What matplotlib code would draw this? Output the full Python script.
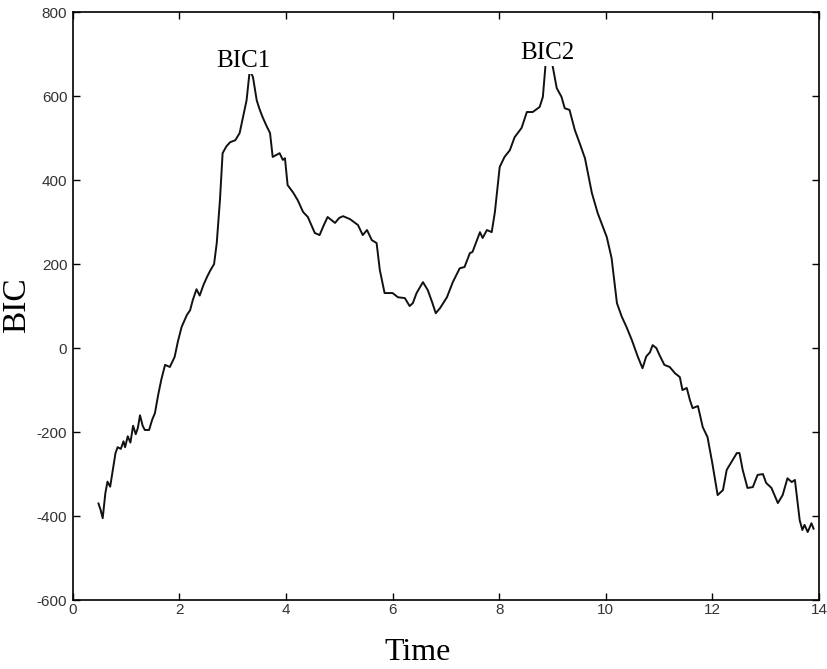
import matplotlib
matplotlib.use('Agg')
import matplotlib.pyplot as plt

# BIC curve
time = [0.48, 0.52, 0.56, 0.61, 0.65, 0.70, 0.75, 0.80, 0.84, 0.90, 0.95, 0.98,
        1.03, 1.08, 1.13, 1.18, 1.22, 1.26, 1.31, 1.35, 1.43, 1.49, 1.54, 1.60,
        1.66, 1.73, 1.82, 1.91, 1.97, 2.04, 2.14, 2.20, 2.25, 2.32, 2.38, 2.45,
        2.52, 2.58, 2.65, 2.70, 2.76, 2.81, 2.88, 2.95, 3.05, 3.13, 3.17, 3.26,
        3.32, 3.38, 3.45, 3.50, 3.56, 3.63, 3.70, 3.75, 3.82, 3.88, 3.94, 3.98,
        4.03, 4.13, 4.22, 4.32, 4.41, 4.54, 4.63, 4.70, 4.78, 4.85, 4.92, 5.00,
        5.07, 5.20, 5.35, 5.44, 5.52, 5.61, 5.70, 5.76, 5.85, 6.00, 6.10, 6.23,
        6.32, 6.38, 6.45, 6.57, 6.66, 6.74, 6.81, 6.89, 7.02, 7.13, 7.26, 7.35,
        7.45, 7.50, 7.64, 7.69, 7.77, 7.86, 7.92, 8.01, 8.10, 8.20, 8.29, 8.42,
        8.52, 8.63, 8.76, 8.82, 8.87, 8.92, 8.97, 9.00, 9.08, 9.17, 9.23, 9.32,
        9.42, 9.51, 9.61, 9.74, 9.85, 10.02, 10.11, 10.21, 10.30, 10.39, 10.49,
        10.60, 10.69, 10.76, 10.83, 10.88, 10.95, 11.01, 11.10, 11.20, 11.30,
        11.39, 11.44, 11.52, 11.58, 11.63, 11.73, 11.82, 11.91, 12.00, 12.10,
        12.20, 12.27, 12.36, 12.46, 12.51, 12.57, 12.66, 12.76, 12.85, 12.95,
        13.01, 13.11, 13.23, 13.32, 13.41, 13.49, 13.55, 13.64, 13.69, 13.73,
        13.79, 13.86, 13.90]
bic = [-370, -385, -405, -345, -318, -330, -290, -250, -236, -240, -222, -236,
       -210, -225, -185, -205, -190, -160, -185, -195, -195, -170, -155, -112,
       -75, -40, -45, -21, 15, 50, 79, 90, 114, 140, 125, 150,
       170, 185, 200, 250, 352, 464, 480, 490, 495, 512, 536, 590,
       662, 645, 590, 570, 550, 530, 512, 455, 460, 464, 448, 452,
       388, 371, 352, 324, 312, 274, 269, 290, 312, 305, 298, 310,
       314, 307, 293, 269, 281, 257, 250, 186, 131, 131, 121, 119,
       100, 107, 131, 157, 138, 110, 83, 95, 121, 157, 190, 193,
       226, 229, 276, 262, 281, 276, 324, 431, 455, 471, 502, 524,
       562, 562, 574, 598, 674, 710, 705, 674, 619, 598, 571, 567,
       519, 488, 452, 369, 321, 264, 214, 107, 75, 50, 19,
       -20, -48, -20, -10, 7, 0, -17, -40, -45, -60,
       -69, -100, -95, -124, -143, -138, -188, -212, -274, -350,
       -338, -290, -271, -250, -250, -290, -333, -331, -302, -300,
       -321, -333, -369, -350, -310, -319, -314, -410, -433, -421,
       -438, -417, -430]

peak_labels = ['BIC1', 'BIC2']
peak_x = [3.19, 8.91]
peak_y = [669, 688]

xticks = [0, 2, 4, 6, 8, 10, 12, 14]
yticks = [-600, -400, -200, 0, 200, 400, 600, 800]

plt.rcParams['font.family'] = ['Liberation Sans', 'DejaVu Sans']
plt.rcParams['axes.unicode_minus'] = False

fig = plt.figure(figsize=(8.28, 6.69), dpi=100)
ax = fig.add_axes([0.088, 0.103, 0.901, 0.879])

ax.plot(time, bic, color='#111111', linewidth=1.4, zorder=2)

for lab, px, py in zip(peak_labels, peak_x, peak_y):
    ax.text(px, py, lab, ha='center', va='baseline', fontsize=18,
            family='Liberation Serif', zorder=3,
            bbox=dict(facecolor='white', edgecolor='none', pad=1.0))

ax.set_xlim(0, 14)
ax.set_ylim(-600, 800)
ax.set_xticks(xticks)
ax.set_yticks(yticks)
ax.tick_params(direction='in', length=5, width=1, top=True, right=True,
               labelsize=11, labelcolor='#333333')
ax.tick_params(axis='x', pad=2)
ax.tick_params(axis='y', pad=4)
for s in ax.spines.values():
    s.set_linewidth(1.2)

ax.set_xlabel('Time', fontsize=23, family='Liberation Serif')
ax.set_ylabel('BIC', fontsize=24, family='Liberation Serif')
ax.xaxis.set_label_coords(0.462, -0.064)
ax.yaxis.set_label_coords(-0.055, 0.502)

fig.savefig('out.png', dpi=100)
